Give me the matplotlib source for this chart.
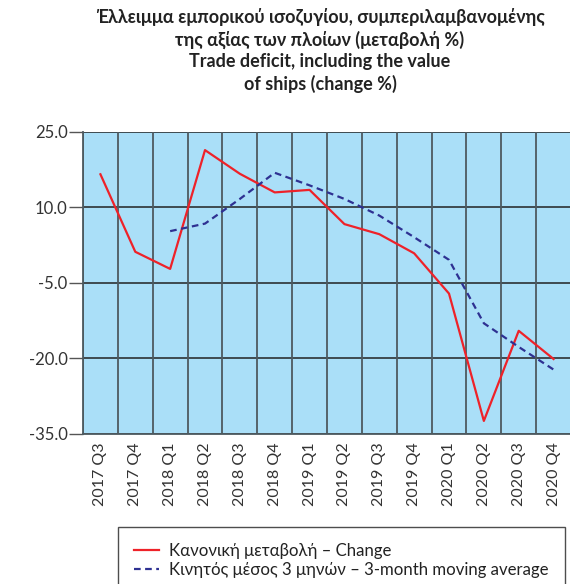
import numpy as np
import matplotlib.pyplot as plt

quarters = ["2017 Q3", "2017 Q4", "2018 Q1", "2018 Q2", "2018 Q3", "2018 Q4",
            "2019 Q1", "2019 Q2", "2019 Q3", "2019 Q4", "2020 Q1", "2020 Q2",
            "2020 Q3", "2020 Q4"]
change = [16.6, 1.2, -2.2, 21.4, 16.7, 13.0, 13.5, 6.7, 4.7, 0.9, -7.1, -32.4,
          -14.5, -20.1]
moving_avg = [np.nan, np.nan, 5.3, 6.8, 11.7, 16.9, 14.4, 11.7, 8.4, 4.1, -0.4,
              -13.0, -17.7, -22.2]
yticks = [25.0, 10.0, -5.0, -20.0, -35.0]

plt.rcParams["font.family"] = ["Lato", "DejaVu Sans"]

fig = plt.figure(figsize=(5.7, 5.84), dpi=100)
ax = fig.add_axes([83 / 570, 150 / 584, 488 / 570, 302 / 584])
ax.set_facecolor("#aadff8")

x = np.arange(len(quarters))
ax.plot(x, change, color="#ee2229", lw=1.6, label="Κανονική μεταβολή – Change")
ax.plot(x, moving_avg, color="#2e3192", lw=1.6, ls=(0, (3, 2)),
        label="Κινητός μέσος 3 μηνών – 3-month moving average")

ax.set_xlim(-0.5, len(quarters) - 0.5)
ax.set_ylim(-35, 25)
ax.set_yticks(yticks)
ax.set_yticklabels([f"{v:.1f}" for v in yticks], fontsize=12, color="#333333")
ax.set_xticks(x)
ax.set_xticklabels(quarters, rotation=90, fontsize=11.5, color="#333333")
ax.tick_params(axis="x", length=0, pad=6)
ax.tick_params(axis="y", length=10, width=1, color="#555555", pad=1)

# horizontal grid at each tick, vertical separators between quarters
for v in yticks:
    ax.axhline(v, color="#222222", lw=1.1, zorder=1)
for b in np.arange(-0.5, len(quarters), 1.0):
    ax.axvline(b, color="#4d5a60", lw=1.3, zorder=1)

for side in ["top", "right"]:
    ax.spines[side].set_visible(False)
ax.spines["left"].set_color("#4d5a60")
ax.spines["left"].set_linewidth(1.3)
ax.spines["bottom"].set_color("#4d5a60")
ax.spines["bottom"].set_linewidth(1.3)

title = ("Έλλειμμα εμπορικού ισοζυγίου, συμπεριλαμβανομένης\n"
         "της αξίας των πλοίων (μεταβολή %)\n"
         "Trade deficit, including the value\n"
         "of ships (change %)")
fig.text(320 / 570, 1 - 8 / 584, title, ha="center", va="top", fontsize=13,
         fontweight="bold", color="#222222", linespacing=1.3)

leg = fig.legend(loc="upper left", bbox_to_anchor=(118 / 570, 1 - 527 / 584),
                 fontsize=12.1, frameon=True, fancybox=False, edgecolor="#222222",
                 handlelength=1.5, handletextpad=0.6, borderpad=0.95,
                 borderaxespad=0, labelspacing=0.2)
leg.get_frame().set_linewidth(1.0)
for t in leg.get_texts():
    t.set_color("#222222")

fig.savefig("out.png", dpi=100)
